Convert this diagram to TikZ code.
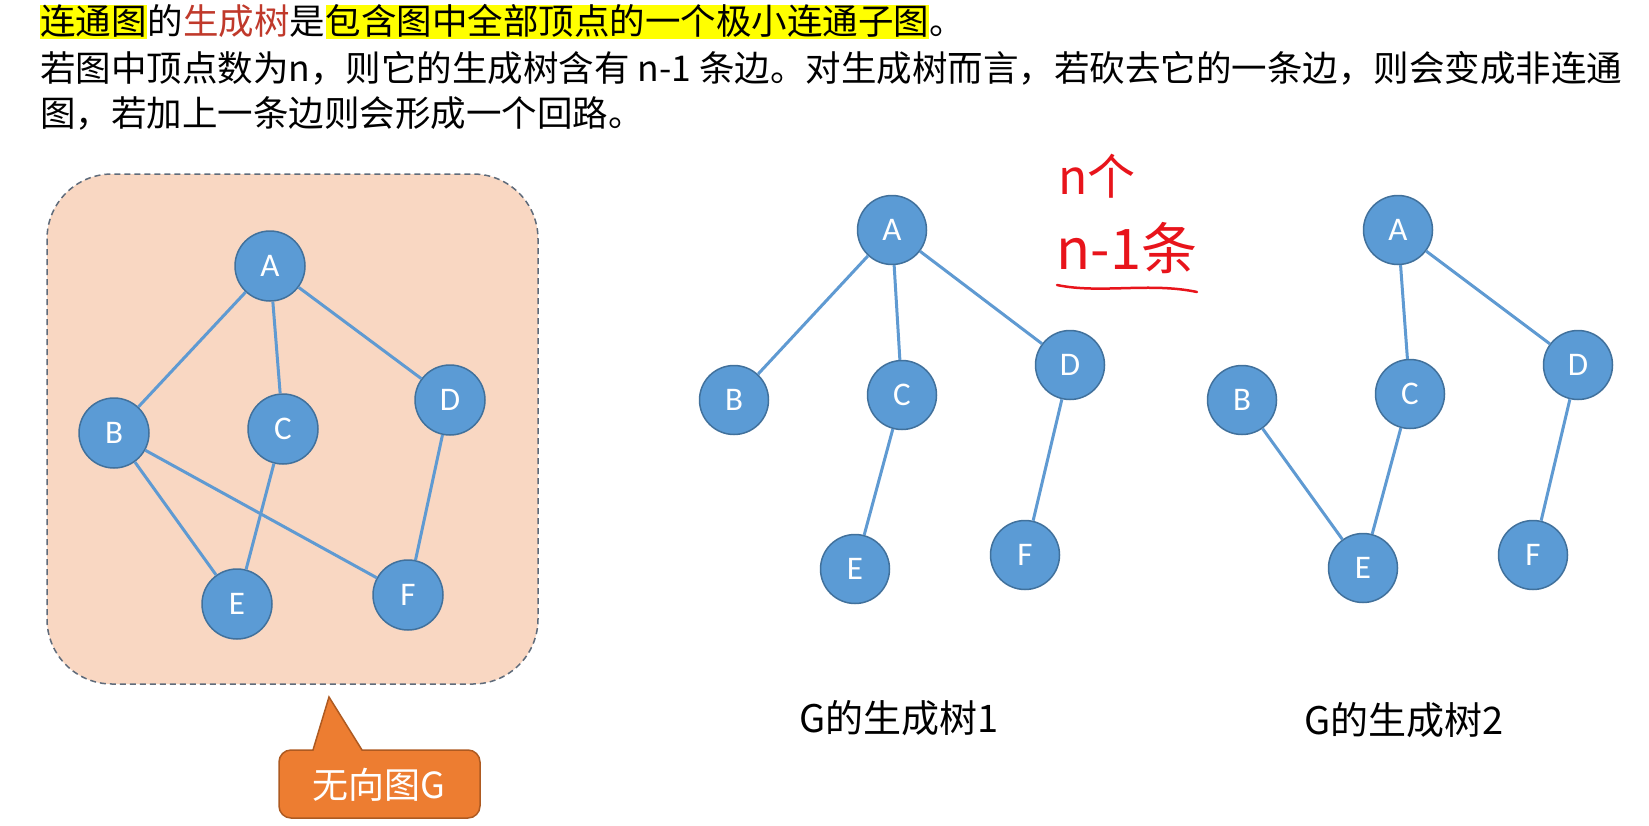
\documentclass[tikz,border=0pt]{standalone}
\usepackage{fontspec}
\usetikzlibrary{shapes.geometric}
\newfontfamily\cjk{Noto Sans CJK SC}
\newfontfamily\lat{Carlito}
\definecolor{nodeblue}{HTML}{5B9BD5}
\definecolor{nodeborder}{HTML}{41719C}
\definecolor{edgeblue}{HTML}{5F9AD2}
\definecolor{panelfill}{HTML}{F9D7C2}
\definecolor{panelborder}{HTML}{5F6B7A}
\definecolor{darkred}{HTML}{C0392B}
\definecolor{hlyellow}{HTML}{FFFF00}
\definecolor{callfill}{HTML}{ED7D31}
\definecolor{callborder}{HTML}{AE5A21}
\definecolor{handred}{HTML}{E8141B}
\begin{document}
\begin{tikzpicture}[x=1pt,y=-1pt,
  vtx/.style={circle, fill=nodeblue, draw=nodeborder, line width=1.5pt, minimum size=69pt, inner sep=0pt, text=white, font=\lat\fontsize{33}{33}\selectfont},
  gvtx/.style={vtx, minimum size=70pt},
  edge/.style={draw=edgeblue, line width=3pt},
  txt/.style={font=\cjk\fontsize{35.5}{36}\selectfont, inner sep=0pt, anchor=base west, text height=29pt, text depth=5pt},
  hl/.style={fill=hlyellow},
  lab/.style={font=\cjk\fontsize{38}{40}\selectfont, inner sep=0pt, text=black},
  hand/.style={font=\cjk\fontsize{48}{50}\selectfont, inner sep=0pt, text=handred},
  panel/.style={fill=panelfill, draw=panelborder, line width=1.5pt, dash pattern=on 6pt off 4pt, rounded corners=65pt},
  callout/.style={fill=callfill, draw=callborder, line width=1.5pt},
]
\useasboundingbox (0,0) rectangle (1649,825);
\fill[white] (0,0) rectangle (1649,825);

% --- top text ---
\node[txt, hl] (l1a) at (40,34) {连通图};
\node[txt] (l1b) at (l1a.base east) {的};
\node[txt, text=darkred] (l1c) at (l1b.base east) {生成树};
\node[txt] (l1d) at (l1c.base east) {是};
\node[txt, hl] (l1e) at (l1d.base east) {包含图中全部顶点的一个极小连通子图};
\node[txt] (l1f) at (l1e.base east) {。};
\node[txt] (l2) at (40,81) {若图中顶点数为n，则它的生成树含有 n-1 条边。对生成树而言，若砍去它的一条边，则会变成非连通};
\node[txt] (l3) at (40,126) {图，若加上一条边则会形成一个回路。};

% --- left panel: graph G ---
\draw[panel] (47,174) rectangle (538,684);
\node[gvtx] (gA) at (270,266) {A};
\node[gvtx] (gB) at (114,433) {B};
\node[gvtx] (gC) at (283,429) {C};
\node[gvtx] (gD) at (450,400) {D};
\node[gvtx] (gE) at (237,604) {E};
\node[gvtx] (gF) at (408,595) {F};
\draw[edge] (gA) -- (gB);
\draw[edge] (gA) -- (gC);
\draw[edge] (gA) -- (gD);
\draw[edge] (gB) -- (gE);
\draw[edge] (gB) -- (gF);
\draw[edge] (gC) -- (gE);
\draw[edge] (gD) -- (gF);

% --- callout ---
\draw[callout] (329,697) -- (362,750) {[rounded corners=12pt] -- (480,750) -- (480,818) -- (279,818) -- (279,750)} -- (313,750) -- cycle;
\node[font=\cjk\fontsize{36}{38}\selectfont, text=white, inner sep=0pt] (cg) at (379,785) {无向图G};

% --- spanning tree 1 ---
\node[vtx] (t1A) at (892,230) {A};
\node[vtx] (t1B) at (734,400) {B};
\node[vtx] (t1C) at (902,395) {C};
\node[vtx] (t1D) at (1070,365) {D};
\node[vtx] (t1E) at (855,569) {E};
\node[vtx] (t1F) at (1025,555) {F};
\draw[edge] (t1A) -- (t1B);
\draw[edge] (t1A) -- (t1C);
\draw[edge] (t1A) -- (t1D);
\draw[edge] (t1C) -- (t1E);
\draw[edge] (t1D) -- (t1F);
\node[lab] (lab1) at (899,718) {G的生成树1};

% --- spanning tree 2 ---
\node[vtx] (t2A) at (1398,230) {A};
\node[vtx] (t2B) at (1242,400) {B};
\node[vtx] (t2C) at (1410,394) {C};
\node[vtx] (t2D) at (1578,365) {D};
\node[vtx] (t2E) at (1363,568) {E};
\node[vtx] (t2F) at (1533,555) {F};
\draw[edge] (t2A) -- (t2C);
\draw[edge] (t2A) -- (t2D);
\draw[edge] (t2B) -- (t2E);
\draw[edge] (t2C) -- (t2E);
\draw[edge] (t2D) -- (t2F);
\node[lab] (lab2) at (1404,720) {G的生成树2};

% --- handwritten notes ---
\node[hand] (hn1) at (1097,176) {n个};
\node[hand, font=\cjk\fontsize{56}{58}\selectfont] (hn2) at (1127,248) {n-1条};
\draw[handred, line width=2.5pt, line cap=round] (1057,285) .. controls (1100,294) and (1150,282) .. (1197,292);
\end{tikzpicture}
\end{document}
